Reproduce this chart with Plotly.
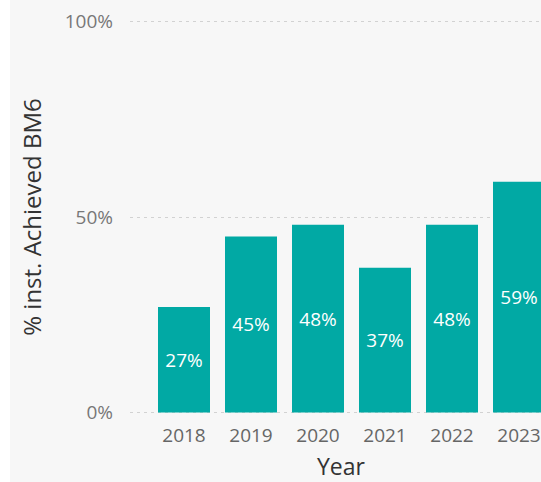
import plotly.graph_objects as go

# Share of institutions that achieved BM6, by year
years = ["2018", "2019", "2020", "2021", "2022", "2023"]
pct_achieved = [27, 45, 48, 37, 48, 59]
y_ticks = [0, 50, 100]
y_tick_labels = ["0%", "50%", "100%"]

BAR = "#01A9A4"
BG = "#F7F7F7"
FONT = "Segoe UI, Open Sans, sans-serif"

W, H = 541, 482
plot_left, plot_right = 130, 541
plot_top, plot_bottom = 20, 414
first_center, step = 184, 67
y_pad = 0.4  # keeps the 0% and 100% gridlines inside the plot area
plot_w = plot_right - plot_left
plot_h = plot_bottom - plot_top

fig = go.Figure(
    go.Bar(
        x=years,
        y=pct_achieved,
        marker=dict(color=BAR, line=dict(width=0)),
        text=[f"{v}%" for v in pct_achieved],
        textposition="inside",
        insidetextanchor="middle",
        textangle=0,
        textfont=dict(color="white", size=19, family=FONT),
        hoverinfo="x+y",
    )
)

x_lo = -(first_center - plot_left) / step
x_hi = (plot_right - first_center) / step

fig.update_layout(
    width=W,
    height=H,
    margin=dict(l=plot_left, r=W - plot_right, t=plot_top, b=H - plot_bottom),
    paper_bgcolor=BG,
    plot_bgcolor=BG,
    bargap=0.224,
    showlegend=False,
    font=dict(family=FONT),
    xaxis=dict(
        type="category",
        range=[x_lo, x_hi],
        showgrid=False,
        zeroline=False,
        showline=False,
        ticks="",
        ticklabelstandoff=8,
        tickfont=dict(size=19, color="#666666"),
    ),
    yaxis=dict(
        range=[-y_pad, 100 + y_pad],
        tickmode="array",
        tickvals=y_ticks,
        ticktext=y_tick_labels,
        showgrid=True,
        gridcolor="#D2D2D2",
        griddash="3px,4px",
        gridwidth=1,
        zeroline=False,
        showline=False,
        ticks="",
        ticklabelstandoff=16,
        tickfont=dict(size=19, color="#777777"),
        title=dict(text="% inst. Achieved BM6", font=dict(size=24, color="#333333"), standoff=16),
    ),
    annotations=[
        # x-axis title, centred under the visible part of the axis
        dict(
            text="Year",
            xref="paper",
            yref="paper",
            x=(341 - plot_left) / plot_w,
            y=-(466 - plot_bottom) / plot_h,
            xanchor="center",
            yanchor="middle",
            showarrow=False,
            font=dict(size=23, color="#333333", family=FONT),
        )
    ],
    shapes=[
        dict(
            type="rect",
            xref="paper",
            yref="paper",
            x0=-plot_left / plot_w,
            x1=-(plot_left - 10) / plot_w,
            y0=-(H - plot_bottom) / plot_h,
            y1=1 + plot_top / plot_h,
            fillcolor="white",
            line=dict(width=0),
            layer="below",
        )
    ],
)

fig.write_html("out.html")
